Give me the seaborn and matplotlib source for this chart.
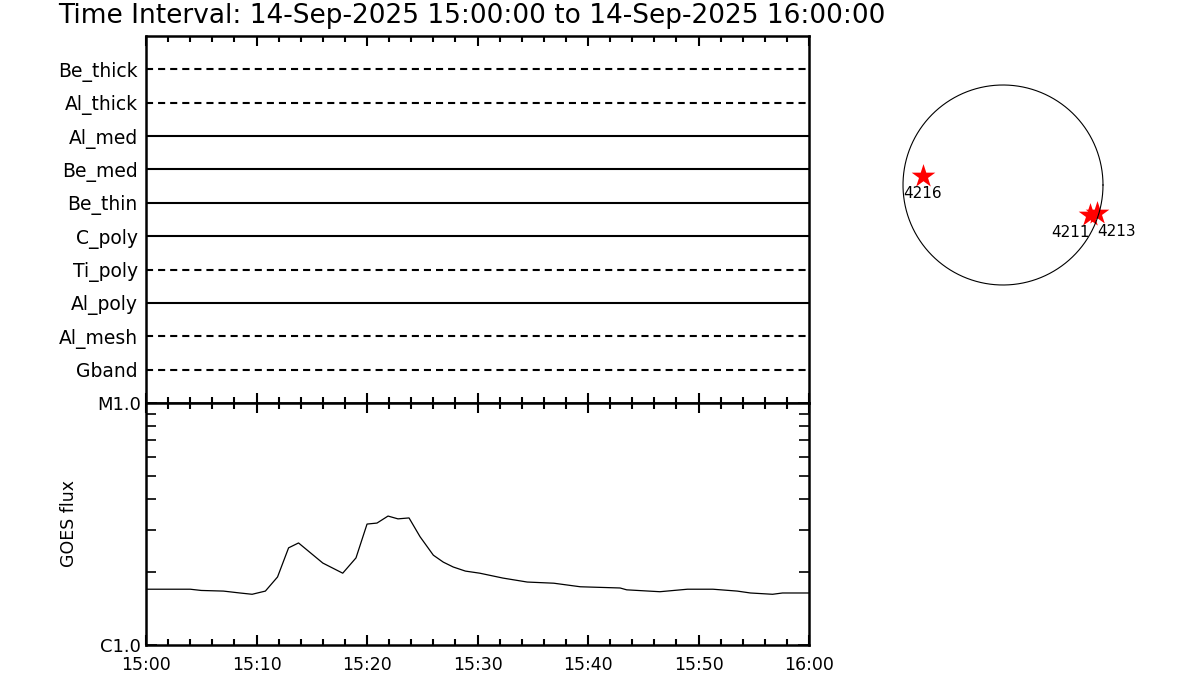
import numpy as np
import pandas as pd
import matplotlib
matplotlib.use("Agg")
import matplotlib.pyplot as plt
import seaborn as sns

################################################
# Data
################################################

title = "Time Interval: 14-Sep-2025 15:00:00 to 14-Sep-2025 16:00:00"

channels = ["Be_thick", "Al_thick", "Al_med", "Be_med", "Be_thin",
            "C_poly", "Ti_poly", "Al_poly", "Al_mesh", "Gband"]
channel_dashed = [True, True, False, False, False,
                  False, True, False, True, True]

# GOES flux, minutes after 15:00, in units of 1e-6 W/m^2
goes_min = [0, 2, 4, 5, 7, 8.5, 9.6, 10.8, 11.9, 12.9, 13.8, 14.8, 16, 17.8,
            19, 20, 20.9, 21.9, 22.8, 23.8, 24.8, 26, 26.9, 27.8, 28.9, 30.2,
            32.3, 34.5, 36.9, 39.3, 42.9, 43.5, 46.5, 49, 51.3, 53.5, 54.7,
            56.7, 57.6, 59.6, 60]
goes_flux = [1.70, 1.70, 1.70, 1.68, 1.67, 1.64, 1.62, 1.67, 1.91, 2.52, 2.64,
             2.42, 2.18, 1.98, 2.29, 3.16, 3.19, 3.41, 3.32, 3.35, 2.80, 2.35,
             2.20, 2.10, 2.02, 1.98, 1.89, 1.82, 1.80, 1.74, 1.72, 1.69, 1.66,
             1.70, 1.70, 1.67, 1.64, 1.62, 1.64, 1.64, 1.64]

time_ticks = [0, 10, 20, 30, 40, 50, 60]
time_labels = ["15:00", "15:10", "15:20", "15:30", "15:40", "15:50", "16:00"]

# active regions on the solar disk (arcsec)
ar_names = ["4216", "4211", "4213"]
ar_x = [-768, 836, 900]
ar_y = [86, -287, -270]
ar_ha = ["center", "right", "left"]
sun_radius = 960

################################################
# Figure
################################################

sns.set_style("white")
plt.rcParams["font.family"] = ["DejaVu Sans"]
plt.rcParams["text.color"] = "black"
plt.rcParams["xtick.color"] = "black"
plt.rcParams["ytick.color"] = "black"
plt.rcParams["axes.labelcolor"] = "black"

fig = plt.figure(figsize=(12, 7), dpi=100)
ax_top = fig.add_axes([0.1217, 0.4243, 0.5525, 0.5243])
ax_bot = fig.add_axes([0.1217, 0.0786, 0.5525, 0.3457])
ax_sun = fig.add_axes([(1003 - 110) / 1200, 1 - (185 + 110) / 700,
                       220 / 1200, 220 / 700])

fig.text(58 / 1200, 1 - 16 / 700, title, fontsize=19, va="center",
         ha="left")

# upper panel: channel lines
n = len(channels)
for i, (name, dashed) in enumerate(zip(channels, channel_dashed)):
    ypos = n - i
    if dashed:
        ax_top.hlines(ypos, 0, 60, color="black", lw=1.5,
                      linestyles=(0, (3.4, 2.4)))
    else:
        ax_top.hlines(ypos, 0, 60, color="black", lw=1.5)
ax_top.set_xlim(0, 60)
ax_top.set_ylim(0, n + 1)
ax_top.set_yticks(range(n, 0, -1))
ax_top.set_yticklabels(channels, fontsize=13.5)
ax_top.tick_params(axis="y", length=0, pad=6)
ax_top.set_xticks(time_ticks)
ax_top.set_xticks(np.arange(0, 61, 2), minor=True)
ax_top.tick_params(axis="x", which="both", direction="in", top=True,
                   bottom=True, labelbottom=False)
ax_top.tick_params(axis="x", which="major", length=7, width=1.5)
ax_top.tick_params(axis="x", which="minor", length=4, width=1.5)

# lower panel: GOES flux
df = pd.DataFrame({"t": goes_min, "flux": np.array(goes_flux) * 1e-6})
sns.lineplot(data=df, x="t", y="flux", ax=ax_bot, color="black", lw=0.9)
ax_bot.set_yscale("log")
ax_bot.set_ylim(1e-6, 1e-5)
ax_bot.set_xlim(0, 60)
ax_bot.set_yticks([1e-6, 1e-5])
ax_bot.set_yticklabels(["C1.0", "M1.0"], fontsize=13)
ax_bot.set_yticks(np.arange(2, 10) * 1e-6, minor=True)
ax_bot.yaxis.set_minor_formatter(matplotlib.ticker.NullFormatter())
ax_bot.tick_params(axis="y", which="both", direction="in", left=True,
                   right=True, width=1.2)
ax_bot.tick_params(axis="y", which="major", length=8)
ax_bot.tick_params(axis="y", which="minor", length=7)
ax_bot.set_xticks(time_ticks)
ax_bot.set_xticklabels(time_labels, fontsize=12.5)
ax_bot.set_xticks(np.arange(0, 61, 2), minor=True)
ax_bot.tick_params(axis="x", which="both", direction="in", top=True,
                   bottom=True, width=1.5, pad=8)
ax_bot.tick_params(axis="x", which="major", length=7)
ax_bot.tick_params(axis="x", which="minor", length=4)
ax_bot.set_xlabel("")
ax_bot.set_ylabel("GOES flux", fontsize=12.5, labelpad=14)

for a in (ax_top, ax_bot):
    for s in a.spines.values():
        s.set_linewidth(1.8)
        s.set_color("black")

# solar disk with active regions
theta = np.linspace(0, 2 * np.pi, 400)
ax_sun.plot(sun_radius * np.cos(theta), sun_radius * np.sin(theta),
            color="black", lw=0.8)
sns.scatterplot(x=ar_x, y=ar_y, ax=ax_sun, marker="*", s=320, color="red",
                edgecolor="red", linewidth=0)
for name, x, y, ha in zip(ar_names, ar_x, ar_y, ar_ha):
    ax_sun.text(x, y - 100, name, ha=ha, va="top", fontsize=11)
lim = sun_radius * 1.1
ax_sun.set_xlim(-lim, lim)
ax_sun.set_ylim(-lim, lim)
ax_sun.set_aspect("equal")
ax_sun.axis("off")

fig.savefig("out.png", dpi=100)
